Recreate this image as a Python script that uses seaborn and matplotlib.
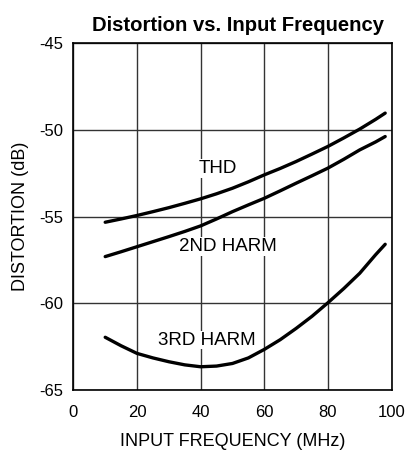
import numpy as np
import pandas as pd
import seaborn as sns
import matplotlib
matplotlib.use('Agg')
import matplotlib.pyplot as plt

# values (MHz, dB)
freq = [10, 15, 20, 25, 30, 35, 40, 45, 50, 55, 60, 65, 70, 75, 80, 85, 90, 95, 98]
thd = [-55.33, -55.14, -54.94, -54.72, -54.49, -54.24, -53.98, -53.69, -53.37, -53.0,
       -52.6, -52.23, -51.83, -51.4, -50.96, -50.47, -49.96, -49.4, -49.04]
harm2 = [-57.31, -57.03, -56.74, -56.45, -56.16, -55.86, -55.54, -55.14, -54.72, -54.33,
         -53.95, -53.52, -53.08, -52.65, -52.21, -51.7, -51.16, -50.7, -50.39]
harm3 = [-61.96, -62.45, -62.89, -63.15, -63.37, -63.55, -63.66, -63.62, -63.47, -63.15,
         -62.66, -62.1, -61.45, -60.75, -59.97, -59.15, -58.27, -57.2, -56.6]

labels = ['THD', '2ND HARM', '3RD HARM']
label_pos = [(45.4, -52.23), (48.4, -56.74), (41.8, -62.12)]

x_ticks = [0, 20, 40, 60, 80, 100]
y_ticks = [-65, -60, -55, -50, -45]

sns.set_style('white')
plt.rcParams['font.family'] = ['Liberation Sans', 'DejaVu Sans']
plt.rcParams['axes.unicode_minus'] = False

df = pd.DataFrame({
    'freq': freq * 3,
    'dist': thd + harm2 + harm3,
    'curve': [labels[0]] * len(freq) + [labels[1]] * len(freq) + [labels[2]] * len(freq),
})

fig = plt.figure(figsize=(4.1, 4.5), dpi=100)
ax = fig.add_axes([0.179, 0.1333, 0.776, 0.7711])

sns.lineplot(data=df, x='freq', y='dist', units='curve', estimator=None,
             color='black', linewidth=2.4, ax=ax, legend=False, zorder=3)

# curve names sit on white boxes that cut the grid lines
for name, (lx, ly) in zip(labels, label_pos):
    ax.text(lx, ly, name, ha='center', va='center', fontsize=13.5, color='black', zorder=4,
            bbox=dict(facecolor='white', edgecolor='none', pad=0.5))

ax.set_xlim(0, 100)
ax.set_ylim(-65, -45)
ax.set_xticks(x_ticks)
ax.set_yticks(y_ticks)
ax.grid(True, color='#333333', linewidth=1.0, zorder=0)
ax.set_axisbelow(True)
for s in ax.spines.values():
    s.set_color('black')
    s.set_linewidth(1.2)
ax.tick_params(axis='both', length=0, labelsize=12, colors='black')
ax.tick_params(axis='x', pad=10.5)
ax.tick_params(axis='y', pad=7)

ax.set_xlabel('INPUT FREQUENCY (MHz)', fontsize=13, color='black', labelpad=10)
ax.set_ylabel('DISTORTION (dB)', fontsize=13, color='black', labelpad=8)
ax.set_title('Distortion vs. Input Frequency', fontsize=14.6, fontweight='bold',
             color='black', pad=9, x=0.516)

fig.savefig('out.png', dpi=100)
